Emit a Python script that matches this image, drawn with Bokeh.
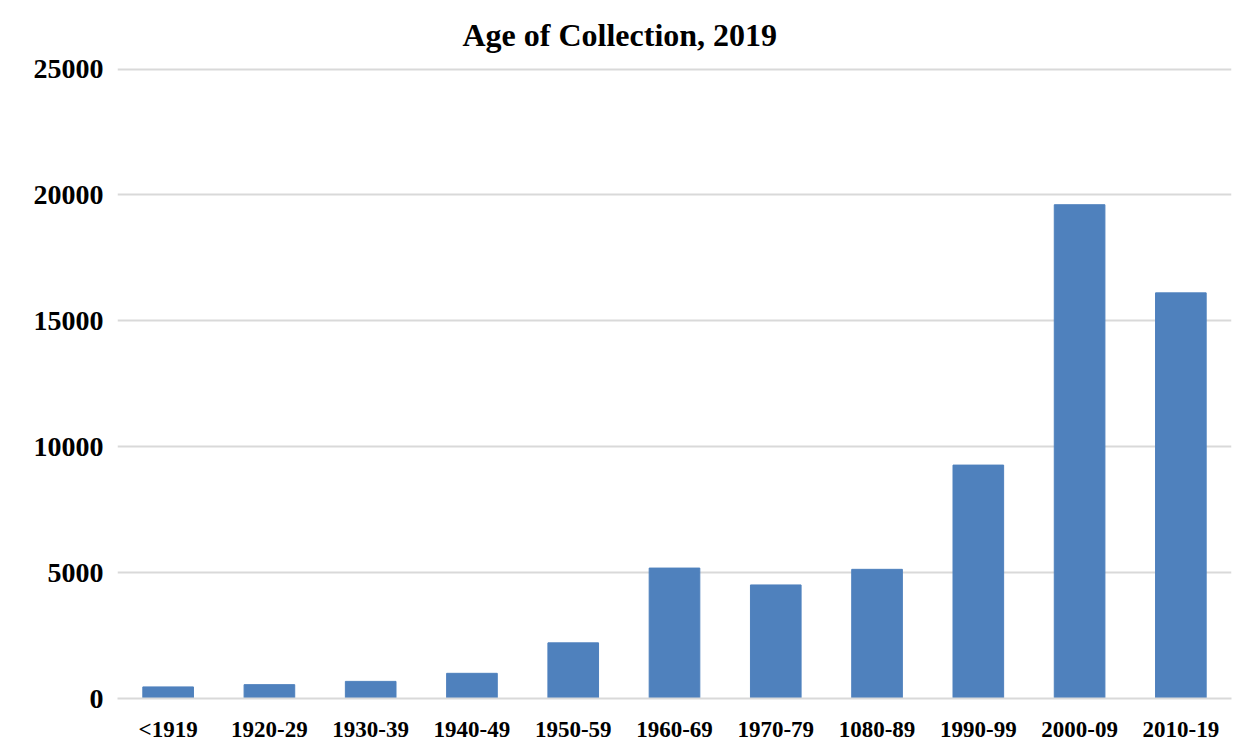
from bokeh.plotting import figure
from bokeh.models import Range1d, FactorRange, SingleIntervalTicker
from bokeh.embed import file_html
from bokeh.resources import INLINE

categories = ["<1919", "1920-29", "1930-39", "1940-49", "1950-59", "1960-69",
              "1970-79", "1080-89", "1990-99", "2000-09", "2010-19"]
counts = [460, 550, 680, 1000, 2210, 5180, 4510, 5130, 9270, 19610, 16110]
title_text = "Age of Collection, 2019"

FONT = "Liberation Serif"
BAR = "#4f81bd"
GRID = "#d9d9d9"

p = figure(width=1243, height=754, x_range=FactorRange(*categories),
           y_range=Range1d(0, 25100), output_backend="svg", toolbar_location=None,
           min_border_left=117, min_border_right=12, min_border_top=66,
           min_border_bottom=56)

p.vbar(x=categories, top=counts, width=0.5, color=BAR)

p.title.text = title_text
p.title.align = "left"
p.title.offset = 345
p.title.text_font = FONT
p.title.text_font_style = "bold"
p.title.text_font_size = "32px"
p.title.text_color = "black"
p.title.standoff = 28

p.outline_line_color = None
p.xgrid.grid_line_color = None
p.ygrid.grid_line_color = GRID
p.ygrid.grid_line_width = 2
p.yaxis.ticker = SingleIntervalTicker(interval=5000)

for ax in (p.xaxis[0], p.yaxis[0]):
    ax.axis_line_color = None
    ax.major_tick_line_color = None
    ax.minor_tick_line_color = None
    ax.major_label_text_font = FONT
    ax.major_label_text_font_style = "bold"
    ax.major_label_text_color = "black"

p.xaxis.axis_line_color = GRID
p.xaxis.axis_line_width = 2
p.xaxis.major_label_text_font_size = "23px"
p.xaxis.major_label_standoff = 12
p.yaxis.major_label_text_font_size = "28px"
p.yaxis.major_label_standoff = 8

open("out.html", "w").write(file_html(p, INLINE))
